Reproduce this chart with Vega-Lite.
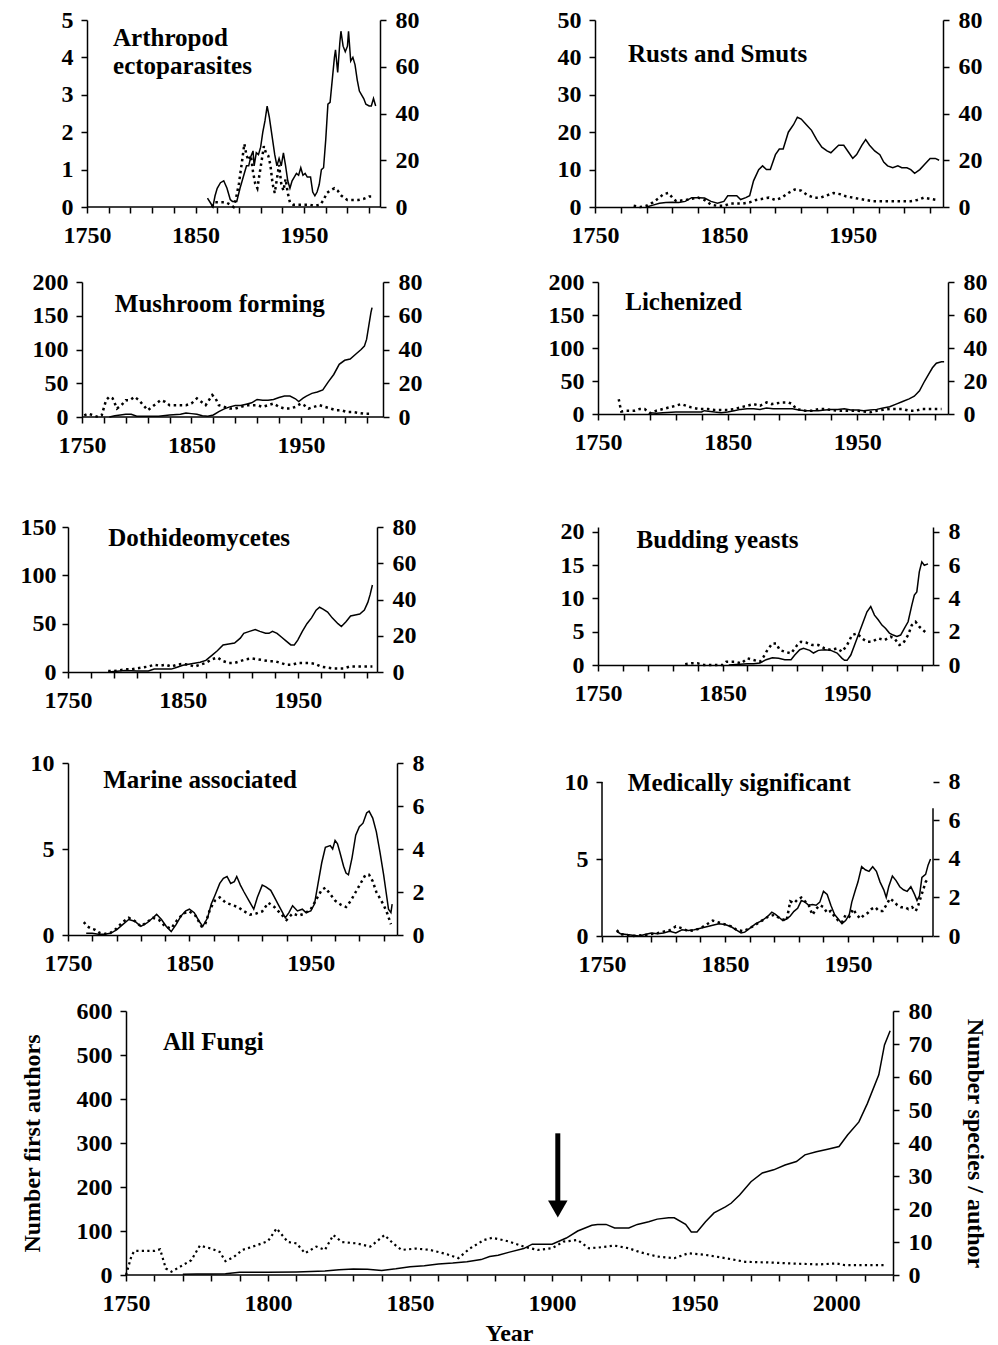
{
  "$schema": "https://vega.github.io/schema/vega-lite/v6.json",
  "padding": {"left": 20, "top": 8, "right": 0, "bottom": 0},
  "background": "white",
  "datasets": {
    "p1a": [{"x":1861,"v":0.24},{"x":1864,"v":0.1},{"x":1866,"v":0},{"x":1868,"v":0.3},{"x":1870,"v":0.5},{"x":1873,"v":0.65},{"x":1876,"v":0.7},{"x":1879,"v":0.5},{"x":1882,"v":0.2},{"x":1884,"v":0.15},{"x":1888,"v":0.15},{"x":1891,"v":0.5},{"x":1894,"v":0.8},{"x":1897,"v":1.1},{"x":1899,"v":1.1},{"x":1901,"v":1.35},{"x":1903,"v":1.5},{"x":1904,"v":1.1},{"x":1906,"v":1.45},{"x":1908,"v":1.4},{"x":1910,"v":1.6},{"x":1912,"v":2.0},{"x":1914,"v":2.3},{"x":1916,"v":2.7},{"x":1918,"v":2.4},{"x":1919,"v":2.2},{"x":1921,"v":1.8},{"x":1923,"v":1.4},{"x":1925,"v":1.1},{"x":1927,"v":1.3},{"x":1929,"v":1.1},{"x":1931,"v":1.45},{"x":1933,"v":1.1},{"x":1935,"v":0.7},{"x":1937,"v":0.5},{"x":1939,"v":0.7},{"x":1941,"v":0.8},{"x":1943,"v":0.9},{"x":1945,"v":0.85},{"x":1947,"v":1.05},{"x":1949,"v":0.85},{"x":1951,"v":0.9},{"x":1953,"v":0.8},{"x":1956,"v":0.8},{"x":1958,"v":0.4},{"x":1960,"v":0.3},{"x":1962,"v":0.4},{"x":1964,"v":0.6},{"x":1966,"v":1.0},{"x":1968,"v":1.05},{"x":1970,"v":1.8},{"x":1972,"v":2.75},{"x":1974,"v":2.8},{"x":1976,"v":3.4},{"x":1978,"v":4.0},{"x":1979,"v":4.2},{"x":1981,"v":3.6},{"x":1983,"v":4.4},{"x":1984,"v":4.7},{"x":1986,"v":4.3},{"x":1988,"v":4.15},{"x":1990,"v":4.3},{"x":1991,"v":4.7},{"x":1993,"v":3.9},{"x":1995,"v":4.0},{"x":1997,"v":3.8},{"x":1999,"v":3.4},{"x":2001,"v":3.1},{"x":2003,"v":3.0},{"x":2005,"v":2.9},{"x":2007,"v":2.75},{"x":2010,"v":2.7},{"x":2012,"v":2.7},{"x":2014,"v":2.9},{"x":2016,"v":2.7}],
    "p1b": [{"x":1865,"v":0},{"x":1868,"v":2},{"x":1872,"v":2},{"x":1878,"v":2},{"x":1882,"v":1},{"x":1885,"v":0},{"x":1887,"v":3},{"x":1890,"v":10},{"x":1893,"v":20},{"x":1895,"v":27},{"x":1897,"v":22},{"x":1899,"v":20},{"x":1901,"v":22},{"x":1903,"v":15},{"x":1905,"v":10},{"x":1907,"v":8},{"x":1909,"v":14},{"x":1911,"v":20},{"x":1913,"v":26},{"x":1915,"v":23},{"x":1917,"v":22},{"x":1919,"v":18},{"x":1921,"v":10},{"x":1923,"v":6},{"x":1925,"v":12},{"x":1927,"v":18},{"x":1929,"v":10},{"x":1931,"v":7},{"x":1933,"v":12},{"x":1935,"v":6},{"x":1937,"v":2},{"x":1940,"v":1},{"x":1945,"v":1},{"x":1950,"v":1},{"x":1955,"v":1},{"x":1960,"v":0.5},{"x":1965,"v":1},{"x":1968,"v":3},{"x":1971,"v":6},{"x":1974,"v":7},{"x":1978,"v":8},{"x":1981,"v":7},{"x":1984,"v":5},{"x":1987,"v":4},{"x":1990,"v":3},{"x":1995,"v":3},{"x":2000,"v":3},{"x":2005,"v":3.5},{"x":2010,"v":4.5},{"x":2015,"v":4.5}],
    "p2a": [{"x":1790,"v":0},{"x":1795,"v":0.5},{"x":1800,"v":1},{"x":1805,"v":1.2},{"x":1810,"v":1.3},{"x":1815,"v":1.2},{"x":1820,"v":1.5},{"x":1825,"v":2.5},{"x":1830,"v":2.5},{"x":1835,"v":2.4},{"x":1840,"v":1.5},{"x":1845,"v":1},{"x":1850,"v":1.5},{"x":1853,"v":3},{"x":1860,"v":3},{"x":1863,"v":2},{"x":1867,"v":2.5},{"x":1870,"v":3},{"x":1873,"v":7},{"x":1877,"v":10},{"x":1880,"v":11},{"x":1883,"v":10},{"x":1886,"v":10},{"x":1890,"v":14},{"x":1893,"v":15.5},{"x":1896,"v":15.5},{"x":1900,"v":20},{"x":1904,"v":22},{"x":1907,"v":24},{"x":1910,"v":23.5},{"x":1914,"v":22},{"x":1918,"v":20.5},{"x":1922,"v":18},{"x":1926,"v":16},{"x":1930,"v":15},{"x":1933,"v":14.5},{"x":1936,"v":15.5},{"x":1939,"v":16.5},{"x":1943,"v":16.5},{"x":1947,"v":14.5},{"x":1950,"v":13},{"x":1953,"v":14},{"x":1957,"v":16.5},{"x":1960,"v":18},{"x":1963,"v":16.5},{"x":1967,"v":15},{"x":1971,"v":14},{"x":1974,"v":12},{"x":1977,"v":11},{"x":1981,"v":10.5},{"x":1985,"v":11},{"x":1988,"v":10.5},{"x":1992,"v":10.5},{"x":1995,"v":10},{"x":1998,"v":9},{"x":2002,"v":10},{"x":2006,"v":11.5},{"x":2010,"v":13},{"x":2014,"v":13},{"x":2017,"v":12.5}],
    "p2b": [{"x":1780,"v":0.5},{"x":1785,"v":0},{"x":1790,"v":0.5},{"x":1795,"v":2},{"x":1800,"v":4},{"x":1803,"v":5.5},{"x":1807,"v":6},{"x":1810,"v":4},{"x":1813,"v":2.5},{"x":1820,"v":3},{"x":1825,"v":3.5},{"x":1830,"v":4},{"x":1835,"v":3},{"x":1840,"v":1},{"x":1845,"v":0.5},{"x":1850,"v":0.5},{"x":1855,"v":1.5},{"x":1860,"v":1.5},{"x":1865,"v":1.5},{"x":1870,"v":2},{"x":1875,"v":3},{"x":1880,"v":3.5},{"x":1885,"v":4},{"x":1890,"v":3},{"x":1895,"v":4},{"x":1900,"v":6},{"x":1905,"v":7.5},{"x":1910,"v":7},{"x":1915,"v":5},{"x":1920,"v":4},{"x":1925,"v":4},{"x":1930,"v":5},{"x":1935,"v":6},{"x":1940,"v":5.5},{"x":1945,"v":4.5},{"x":1950,"v":4},{"x":1955,"v":3.5},{"x":1960,"v":3},{"x":1965,"v":2.5},{"x":1970,"v":2.5},{"x":1980,"v":2.5},{"x":1990,"v":2.5},{"x":1995,"v":2.5},{"x":2000,"v":3},{"x":2005,"v":4},{"x":2010,"v":3.5},{"x":2015,"v":3}],
    "p3a": [{"x":1775,"v":0},{"x":1780,"v":2},{"x":1790,"v":4},{"x":1795,"v":4},{"x":1800,"v":1},{"x":1810,"v":1},{"x":1820,"v":1},{"x":1830,"v":3},{"x":1840,"v":4},{"x":1845,"v":6},{"x":1850,"v":5},{"x":1855,"v":4},{"x":1860,"v":2},{"x":1865,"v":1},{"x":1870,"v":3},{"x":1875,"v":8},{"x":1880,"v":12},{"x":1885,"v":15},{"x":1890,"v":17},{"x":1895,"v":17},{"x":1900,"v":19},{"x":1905,"v":21},{"x":1910,"v":26},{"x":1915,"v":25},{"x":1920,"v":25},{"x":1925,"v":26},{"x":1930,"v":29},{"x":1935,"v":31},{"x":1940,"v":31},{"x":1945,"v":27},{"x":1948,"v":23},{"x":1952,"v":28},{"x":1955,"v":31},{"x":1960,"v":35},{"x":1965,"v":37},{"x":1970,"v":40},{"x":1975,"v":52},{"x":1980,"v":63},{"x":1985,"v":78},{"x":1990,"v":84},{"x":1995,"v":86},{"x":2000,"v":93},{"x":2005,"v":100},{"x":2008,"v":105},{"x":2010,"v":115},{"x":2012,"v":135},{"x":2014,"v":155},{"x":2015,"v":162}],
    "p3b": [{"x":1752,"v":1},{"x":1756,"v":2},{"x":1760,"v":1},{"x":1765,"v":0},{"x":1768,"v":1},{"x":1772,"v":10},{"x":1775,"v":12},{"x":1778,"v":11},{"x":1782,"v":5},{"x":1786,"v":7},{"x":1790,"v":10},{"x":1794,"v":10},{"x":1798,"v":12},{"x":1802,"v":10},{"x":1806,"v":7},{"x":1810,"v":4},{"x":1814,"v":6},{"x":1818,"v":8},{"x":1822,"v":10},{"x":1826,"v":9},{"x":1830,"v":7},{"x":1835,"v":7},{"x":1840,"v":7},{"x":1845,"v":7},{"x":1850,"v":8},{"x":1855,"v":11},{"x":1859,"v":9},{"x":1863,"v":7},{"x":1866,"v":10},{"x":1869,"v":13},{"x":1872,"v":11},{"x":1875,"v":7},{"x":1880,"v":6},{"x":1885,"v":5},{"x":1890,"v":5},{"x":1895,"v":6},{"x":1900,"v":7},{"x":1905,"v":7},{"x":1910,"v":7},{"x":1915,"v":6},{"x":1920,"v":7},{"x":1925,"v":8},{"x":1930,"v":6},{"x":1935,"v":5},{"x":1940,"v":5},{"x":1945,"v":6},{"x":1950,"v":8},{"x":1953,"v":7},{"x":1957,"v":5},{"x":1962,"v":6},{"x":1967,"v":7},{"x":1972,"v":6},{"x":1977,"v":5},{"x":1982,"v":4},{"x":1987,"v":4},{"x":1992,"v":3},{"x":1997,"v":3},{"x":2002,"v":2.5},{"x":2007,"v":2},{"x":2012,"v":2},{"x":2015,"v":2}],
    "p4a": [{"x":1790,"v":2},{"x":1795,"v":1},{"x":1800,"v":2},{"x":1810,"v":3},{"x":1820,"v":3},{"x":1830,"v":3},{"x":1832,"v":5},{"x":1840,"v":3},{"x":1845,"v":2},{"x":1850,"v":3},{"x":1855,"v":5},{"x":1860,"v":7},{"x":1865,"v":8},{"x":1870,"v":8},{"x":1875,"v":7},{"x":1880,"v":9},{"x":1885,"v":8},{"x":1890,"v":8},{"x":1895,"v":8},{"x":1900,"v":8},{"x":1905,"v":6},{"x":1910,"v":5},{"x":1915,"v":5},{"x":1920,"v":5},{"x":1925,"v":6},{"x":1930,"v":7},{"x":1935,"v":7},{"x":1940,"v":8},{"x":1945,"v":6},{"x":1950,"v":6},{"x":1955,"v":5},{"x":1960,"v":6},{"x":1965,"v":7},{"x":1970,"v":9},{"x":1975,"v":11},{"x":1980,"v":15},{"x":1985,"v":19},{"x":1990,"v":23},{"x":1994,"v":27},{"x":1998,"v":35},{"x":2002,"v":50},{"x":2005,"v":60},{"x":2008,"v":70},{"x":2011,"v":77},{"x":2015,"v":79},{"x":2017,"v":79}],
    "p4b": [{"x":1766,"v":9},{"x":1767,"v":5},{"x":1768,"v":1.5},{"x":1772,"v":2},{"x":1778,"v":2},{"x":1782,"v":3},{"x":1786,"v":3},{"x":1790,"v":0.5},{"x":1795,"v":2},{"x":1800,"v":3},{"x":1805,"v":4},{"x":1810,"v":5},{"x":1814,"v":6},{"x":1818,"v":5},{"x":1822,"v":4},{"x":1828,"v":3},{"x":1835,"v":3},{"x":1840,"v":2.5},{"x":1845,"v":2.5},{"x":1850,"v":2.5},{"x":1855,"v":3},{"x":1860,"v":4},{"x":1865,"v":5},{"x":1870,"v":6},{"x":1875,"v":5},{"x":1880,"v":7},{"x":1884,"v":6},{"x":1888,"v":6.5},{"x":1892,"v":7},{"x":1897,"v":7},{"x":1900,"v":6},{"x":1903,"v":3},{"x":1910,"v":2},{"x":1915,"v":2},{"x":1920,"v":3},{"x":1925,"v":3},{"x":1930,"v":2.5},{"x":1935,"v":2},{"x":1940,"v":2},{"x":1945,"v":2},{"x":1950,"v":2},{"x":1955,"v":1.5},{"x":1960,"v":1},{"x":1965,"v":2},{"x":1970,"v":2.5},{"x":1975,"v":3},{"x":1980,"v":3},{"x":1985,"v":3},{"x":1990,"v":2},{"x":1995,"v":2},{"x":2000,"v":3},{"x":2005,"v":3},{"x":2010,"v":3},{"x":2015,"v":3}],
    "p5a": [{"x":1785,"v":0},{"x":1795,"v":1},{"x":1800,"v":1.5},{"x":1810,"v":1},{"x":1820,"v":1},{"x":1825,"v":3},{"x":1830,"v":3},{"x":1840,"v":3},{"x":1845,"v":5},{"x":1850,"v":7},{"x":1855,"v":8},{"x":1860,"v":9},{"x":1865,"v":10},{"x":1870,"v":12},{"x":1875,"v":17},{"x":1880,"v":22},{"x":1885,"v":28},{"x":1890,"v":29},{"x":1895,"v":30},{"x":1900,"v":35},{"x":1903,"v":40},{"x":1908,"v":42},{"x":1913,"v":44},{"x":1917,"v":42},{"x":1922,"v":40},{"x":1925,"v":40},{"x":1928,"v":42},{"x":1932,"v":40},{"x":1936,"v":36},{"x":1940,"v":32},{"x":1944,"v":28},{"x":1947,"v":28},{"x":1950,"v":33},{"x":1954,"v":42},{"x":1958,"v":50},{"x":1962,"v":56},{"x":1966,"v":64},{"x":1969,"v":67},{"x":1972,"v":65},{"x":1976,"v":62},{"x":1980,"v":56},{"x":1985,"v":50},{"x":1988,"v":47},{"x":1992,"v":52},{"x":1996,"v":58},{"x":2000,"v":59},{"x":2004,"v":60},{"x":2008,"v":64},{"x":2011,"v":72},{"x":2013,"v":80},{"x":2015,"v":90}],
    "p5b": [{"x":1785,"v":0.5},{"x":1790,"v":0.5},{"x":1795,"v":1},{"x":1800,"v":1.5},{"x":1805,"v":1.5},{"x":1810,"v":2},{"x":1815,"v":2.5},{"x":1820,"v":3},{"x":1825,"v":4},{"x":1830,"v":3.5},{"x":1835,"v":4},{"x":1840,"v":3},{"x":1845,"v":4},{"x":1850,"v":4.5},{"x":1855,"v":4},{"x":1860,"v":3},{"x":1865,"v":4},{"x":1870,"v":5},{"x":1875,"v":7},{"x":1880,"v":8},{"x":1885,"v":6},{"x":1890,"v":5},{"x":1895,"v":5},{"x":1900,"v":6},{"x":1905,"v":7},{"x":1910,"v":7.5},{"x":1915,"v":7},{"x":1920,"v":6.5},{"x":1925,"v":6},{"x":1930,"v":6},{"x":1935,"v":5},{"x":1940,"v":4},{"x":1945,"v":4},{"x":1950,"v":5},{"x":1955,"v":5},{"x":1960,"v":5},{"x":1965,"v":4.5},{"x":1970,"v":3},{"x":1975,"v":2.5},{"x":1980,"v":2},{"x":1985,"v":2},{"x":1990,"v":2},{"x":1995,"v":3},{"x":2000,"v":3},{"x":2005,"v":3},{"x":2010,"v":3},{"x":2015,"v":3}],
    "p6a": [{"x":1855,"v":0},{"x":1870,"v":0.2},{"x":1875,"v":0.2},{"x":1880,"v":0.3},{"x":1885,"v":0.8},{"x":1890,"v":1.1},{"x":1895,"v":1},{"x":1900,"v":0.8},{"x":1905,"v":0.8},{"x":1908,"v":1.5},{"x":1912,"v":2.3},{"x":1915,"v":2.5},{"x":1920,"v":2.2},{"x":1923,"v":1.8},{"x":1927,"v":2.2},{"x":1932,"v":2.3},{"x":1937,"v":2.2},{"x":1942,"v":1.8},{"x":1946,"v":1},{"x":1948,"v":0.7},{"x":1950,"v":0.7},{"x":1953,"v":1.5},{"x":1957,"v":3.5},{"x":1960,"v":5},{"x":1963,"v":6.5},{"x":1966,"v":8},{"x":1969,"v":8.8},{"x":1972,"v":7.5},{"x":1975,"v":6.8},{"x":1978,"v":6},{"x":1981,"v":5.5},{"x":1984,"v":4.8},{"x":1987,"v":4.5},{"x":1990,"v":4.3},{"x":1993,"v":4.5},{"x":1996,"v":5.5},{"x":1999,"v":6.5},{"x":2002,"v":9},{"x":2004,"v":10.5},{"x":2006,"v":11},{"x":2008,"v":14},{"x":2010,"v":15.5},{"x":2012,"v":15},{"x":2015,"v":15.2}],
    "p6b": [{"x":1820,"v":0.05},{"x":1825,"v":0.1},{"x":1830,"v":0.1},{"x":1835,"v":0},{"x":1850,"v":0},{"x":1853,"v":0.2},{"x":1860,"v":0.2},{"x":1865,"v":0.1},{"x":1870,"v":0.4},{"x":1875,"v":0.3},{"x":1880,"v":0.2},{"x":1883,"v":0.5},{"x":1886,"v":0.9},{"x":1890,"v":1.3},{"x":1893,"v":1.3},{"x":1896,"v":0.9},{"x":1900,"v":0.8},{"x":1905,"v":0.7},{"x":1910,"v":1.2},{"x":1913,"v":1.4},{"x":1917,"v":1.35},{"x":1922,"v":1.2},{"x":1927,"v":1.2},{"x":1932,"v":1.0},{"x":1937,"v":0.9},{"x":1942,"v":1.0},{"x":1946,"v":0.8},{"x":1950,"v":1.2},{"x":1954,"v":1.8},{"x":1958,"v":1.9},{"x":1962,"v":1.6},{"x":1966,"v":1.4},{"x":1970,"v":1.4},{"x":1975,"v":1.6},{"x":1980,"v":1.5},{"x":1985,"v":1.7},{"x":1988,"v":1.6},{"x":1992,"v":1.2},{"x":1995,"v":1.3},{"x":1999,"v":1.8},{"x":2002,"v":2.4},{"x":2005,"v":2.6},{"x":2008,"v":2.3},{"x":2011,"v":2.1},{"x":2014,"v":1.9}],
    "p7a": [{"x":1765,"v":0.1},{"x":1770,"v":0.1},{"x":1775,"v":0.05},{"x":1780,"v":0.05},{"x":1785,"v":0.1},{"x":1790,"v":0.3},{"x":1795,"v":0.6},{"x":1800,"v":0.9},{"x":1805,"v":0.8},{"x":1810,"v":0.5},{"x":1815,"v":0.7},{"x":1820,"v":1.0},{"x":1823,"v":1.2},{"x":1827,"v":0.9},{"x":1831,"v":0.5},{"x":1835,"v":0.2},{"x":1839,"v":0.6},{"x":1843,"v":1.1},{"x":1847,"v":1.4},{"x":1850,"v":1.5},{"x":1854,"v":1.3},{"x":1858,"v":0.8},{"x":1861,"v":0.5},{"x":1865,"v":1.0},{"x":1868,"v":1.8},{"x":1871,"v":2.3},{"x":1875,"v":3.0},{"x":1878,"v":3.3},{"x":1881,"v":3.4},{"x":1884,"v":3.0},{"x":1887,"v":3.1},{"x":1889,"v":3.4},{"x":1892,"v":2.9},{"x":1895,"v":2.5},{"x":1899,"v":2.0},{"x":1903,"v":1.5},{"x":1906,"v":2.2},{"x":1910,"v":2.9},{"x":1913,"v":2.8},{"x":1917,"v":2.6},{"x":1920,"v":2.2},{"x":1923,"v":1.8},{"x":1926,"v":1.4},{"x":1929,"v":1.0},{"x":1932,"v":1.3},{"x":1935,"v":1.7},{"x":1939,"v":1.4},{"x":1943,"v":1.5},{"x":1946,"v":1.3},{"x":1950,"v":1.4},{"x":1953,"v":1.8},{"x":1956,"v":3.0},{"x":1959,"v":4.2},{"x":1962,"v":5.1},{"x":1966,"v":5.2},{"x":1968,"v":5.0},{"x":1970,"v":5.5},{"x":1972,"v":5.3},{"x":1974,"v":4.8},{"x":1977,"v":4.0},{"x":1979,"v":3.6},{"x":1981,"v":3.5},{"x":1984,"v":4.5},{"x":1987,"v":5.8},{"x":1990,"v":6.3},{"x":1993,"v":6.5},{"x":1996,"v":7.1},{"x":1998,"v":7.2},{"x":2001,"v":6.8},{"x":2004,"v":6.0},{"x":2007,"v":4.8},{"x":2010,"v":3.5},{"x":2012,"v":2.5},{"x":2014,"v":1.5},{"x":2016,"v":1.3},{"x":2017,"v":1.8}],
    "p7b": [{"x":1763,"v":0.6},{"x":1766,"v":0.4},{"x":1769,"v":0.3},{"x":1772,"v":0.25},{"x":1776,"v":0.1},{"x":1780,"v":0.05},{"x":1785,"v":0.1},{"x":1790,"v":0.3},{"x":1795,"v":0.6},{"x":1800,"v":0.8},{"x":1805,"v":0.65},{"x":1810,"v":0.4},{"x":1815,"v":0.6},{"x":1820,"v":0.8},{"x":1825,"v":0.7},{"x":1830,"v":0.4},{"x":1835,"v":0.3},{"x":1840,"v":0.7},{"x":1845,"v":1.0},{"x":1850,"v":1.1},{"x":1855,"v":0.9},{"x":1860,"v":0.4},{"x":1863,"v":0.5},{"x":1867,"v":1.2},{"x":1871,"v":1.6},{"x":1875,"v":1.75},{"x":1880,"v":1.5},{"x":1885,"v":1.4},{"x":1890,"v":1.3},{"x":1895,"v":1.1},{"x":1900,"v":0.95},{"x":1905,"v":1.0},{"x":1910,"v":1.1},{"x":1915,"v":1.5},{"x":1920,"v":1.3},{"x":1925,"v":1.0},{"x":1930,"v":0.7},{"x":1935,"v":1.0},{"x":1940,"v":0.9},{"x":1945,"v":1.0},{"x":1950,"v":1.2},{"x":1955,"v":1.7},{"x":1959,"v":2.1},{"x":1962,"v":2.2},{"x":1966,"v":1.9},{"x":1970,"v":1.6},{"x":1975,"v":1.4},{"x":1979,"v":1.3},{"x":1983,"v":1.6},{"x":1987,"v":2.0},{"x":1991,"v":2.4},{"x":1995,"v":2.8},{"x":1998,"v":2.8},{"x":2001,"v":2.5},{"x":2004,"v":2.0},{"x":2007,"v":1.7},{"x":2010,"v":1.4},{"x":2013,"v":1.0},{"x":2016,"v":0.5}],
    "p8a": [{"x":1762,"v":0.3},{"x":1765,"v":0.15},{"x":1770,"v":0.1},{"x":1775,"v":0.05},{"x":1780,"v":0.0},{"x":1785,"v":0.1},{"x":1790,"v":0.2},{"x":1795,"v":0.15},{"x":1800,"v":0.2},{"x":1805,"v":0.3},{"x":1810,"v":0.2},{"x":1815,"v":0.4},{"x":1820,"v":0.35},{"x":1825,"v":0.4},{"x":1830,"v":0.5},{"x":1835,"v":0.6},{"x":1840,"v":0.7},{"x":1845,"v":0.8},{"x":1850,"v":0.75},{"x":1855,"v":0.6},{"x":1860,"v":0.35},{"x":1863,"v":0.2},{"x":1866,"v":0.25},{"x":1870,"v":0.5},{"x":1875,"v":0.8},{"x":1880,"v":1.0},{"x":1885,"v":1.3},{"x":1888,"v":1.55},{"x":1891,"v":1.4},{"x":1894,"v":1.2},{"x":1897,"v":1.0},{"x":1900,"v":1.1},{"x":1903,"v":1.3},{"x":1906,"v":1.6},{"x":1909,"v":1.8},{"x":1912,"v":2.3},{"x":1915,"v":2.2},{"x":1918,"v":2.0},{"x":1921,"v":2.05},{"x":1924,"v":2.0},{"x":1927,"v":2.2},{"x":1930,"v":2.9},{"x":1933,"v":2.7},{"x":1936,"v":2.0},{"x":1939,"v":1.4},{"x":1942,"v":1.1},{"x":1945,"v":0.8},{"x":1948,"v":1.0},{"x":1951,"v":1.4},{"x":1953,"v":2.2},{"x":1956,"v":3.0},{"x":1958,"v":3.5},{"x":1961,"v":4.5},{"x":1964,"v":4.3},{"x":1967,"v":4.2},{"x":1970,"v":4.5},{"x":1973,"v":4.2},{"x":1976,"v":3.5},{"x":1979,"v":3.0},{"x":1981,"v":2.5},{"x":1983,"v":3.2},{"x":1986,"v":3.9},{"x":1989,"v":3.6},{"x":1992,"v":3.2},{"x":1995,"v":3.0},{"x":1998,"v":2.9},{"x":2001,"v":3.2},{"x":2004,"v":2.7},{"x":2006,"v":2.3},{"x":2008,"v":2.6},{"x":2010,"v":3.8},{"x":2013,"v":4.0},{"x":2015,"v":4.6},{"x":2017,"v":5.0}],
    "p8b": [{"x":1762,"v":0.3},{"x":1765,"v":0.1},{"x":1775,"v":0.0},{"x":1785,"v":0.05},{"x":1795,"v":0.15},{"x":1805,"v":0.3},{"x":1810,"v":0.5},{"x":1815,"v":0.4},{"x":1820,"v":0.25},{"x":1825,"v":0.3},{"x":1830,"v":0.4},{"x":1835,"v":0.6},{"x":1840,"v":0.8},{"x":1845,"v":0.7},{"x":1850,"v":0.6},{"x":1855,"v":0.5},{"x":1860,"v":0.3},{"x":1865,"v":0.25},{"x":1870,"v":0.4},{"x":1875,"v":0.6},{"x":1880,"v":0.8},{"x":1885,"v":1.0},{"x":1890,"v":1.1},{"x":1895,"v":0.9},{"x":1900,"v":0.8},{"x":1903,"v":1.8},{"x":1906,"v":1.7},{"x":1909,"v":1.9},{"x":1912,"v":2.0},{"x":1915,"v":1.8},{"x":1918,"v":1.6},{"x":1921,"v":1.1},{"x":1924,"v":1.4},{"x":1927,"v":1.6},{"x":1930,"v":1.5},{"x":1933,"v":1.2},{"x":1936,"v":1.3},{"x":1939,"v":1.0},{"x":1942,"v":0.8},{"x":1945,"v":0.7},{"x":1948,"v":1.1},{"x":1951,"v":1.0},{"x":1954,"v":1.4},{"x":1957,"v":1.1},{"x":1960,"v":0.9},{"x":1963,"v":1.1},{"x":1966,"v":1.2},{"x":1969,"v":1.4},{"x":1972,"v":1.5},{"x":1975,"v":1.3},{"x":1978,"v":1.3},{"x":1981,"v":1.6},{"x":1984,"v":1.95},{"x":1987,"v":1.8},{"x":1990,"v":1.6},{"x":1993,"v":1.5},{"x":1996,"v":1.5},{"x":1999,"v":1.4},{"x":2002,"v":1.5},{"x":2005,"v":1.3},{"x":2007,"v":1.6},{"x":2009,"v":2.0},{"x":2011,"v":2.4},{"x":2013,"v":2.8},{"x":2015,"v":3.0}],
    "fa": [{"x":1770,"v":1.5},{"x":1775,"v":2},{"x":1780,"v":2},{"x":1785,"v":3},{"x":1790,"v":6},{"x":1800,"v":6},{"x":1810,"v":7},{"x":1820,"v":9},{"x":1825,"v":12},{"x":1830,"v":13.6},{"x":1835,"v":13},{"x":1840,"v":10},{"x":1845,"v":14},{"x":1850,"v":19},{"x":1855,"v":21},{"x":1860,"v":25},{"x":1865,"v":27},{"x":1870,"v":30},{"x":1875,"v":35},{"x":1878,"v":42},{"x":1881,"v":45},{"x":1885,"v":52},{"x":1890,"v":60},{"x":1893,"v":70},{"x":1900,"v":70},{"x":1905,"v":84},{"x":1909,"v":100},{"x":1914,"v":113},{"x":1916,"v":115},{"x":1919,"v":115},{"x":1922,"v":107},{"x":1927,"v":107},{"x":1930,"v":115},{"x":1934,"v":121},{"x":1937,"v":127},{"x":1941,"v":130},{"x":1943,"v":130},{"x":1947,"v":115},{"x":1949,"v":98},{"x":1951,"v":98},{"x":1954,"v":121},{"x":1957,"v":141},{"x":1961,"v":155},{"x":1963,"v":163},{"x":1966,"v":182},{"x":1970,"v":212},{"x":1974,"v":232},{"x":1978,"v":239},{"x":1982,"v":250},{"x":1986,"v":258},{"x":1989,"v":273},{"x":1993,"v":280},{"x":1997,"v":286},{"x":2001,"v":292},{"x":2004,"v":318},{"x":2008,"v":348},{"x":2011,"v":390},{"x":2015,"v":455},{"x":2017,"v":523},{"x":2019,"v":555}],
    "fb": [{"x":1750,"v":0},{"x":1752,"v":6},{"x":1753,"v":7.3},{"x":1760,"v":7.3},{"x":1762,"v":7.8},{"x":1764,"v":2},{"x":1766,"v":1},{"x":1769,"v":2.5},{"x":1773,"v":4.5},{"x":1776,"v":8.9},{"x":1780,"v":8},{"x":1783,"v":7},{"x":1785,"v":4.2},{"x":1788,"v":5.5},{"x":1791,"v":7.6},{"x":1796,"v":9},{"x":1800,"v":10.3},{"x":1803,"v":14.1},{"x":1807,"v":10},{"x":1810,"v":9.6},{"x":1813,"v":6.6},{"x":1817,"v":8.6},{"x":1820,"v":7.6},{"x":1823,"v":12.1},{"x":1826,"v":10},{"x":1831,"v":9.6},{"x":1836,"v":8.6},{"x":1841,"v":12.1},{"x":1844,"v":9.6},{"x":1847,"v":7.6},{"x":1852,"v":8},{"x":1857,"v":7.6},{"x":1863,"v":6.3},{"x":1867,"v":5.1},{"x":1871,"v":8},{"x":1876,"v":10.6},{"x":1879,"v":11.3},{"x":1881,"v":10.9},{"x":1885,"v":10.1},{"x":1890,"v":8.6},{"x":1895,"v":7.6},{"x":1900,"v":8.1},{"x":1904,"v":10.1},{"x":1909,"v":10.6},{"x":1913,"v":8.1},{"x":1916,"v":8.3},{"x":1922,"v":8.9},{"x":1927,"v":8.1},{"x":1931,"v":6.9},{"x":1937,"v":5.6},{"x":1943,"v":5.1},{"x":1948,"v":6.6},{"x":1954,"v":6.1},{"x":1961,"v":5.1},{"x":1968,"v":4.0},{"x":1976,"v":3.8},{"x":1984,"v":3.5},{"x":1994,"v":3.2},{"x":2000,"v":3.5},{"x":2003,"v":3.0},{"x":2011,"v":3.0},{"x":2017,"v":3.0}]
  },
  "vconcat": [
    {
      "spacing": 138,
      "hconcat": [
        {
          "width": 312, "height": 187,
          "layer": [
            {"layer": [
              {"data": {"name": "p1a"}, "mark": {"type": "line", "color": "black", "strokeWidth": 1.5},
               "encoding": {
                 "x": {"field": "x", "type": "quantitative", "scale": {"domain": [1732.49, 2020], "nice": false, "zero": false},
                       "axis": {"values": [1750,1770,1790,1810,1830,1850,1870,1890,1910,1930,1950,1970,1990,2010], "tickCount": 100, "domain": false, "format": "d", "labelExpr": "(datum.value - 1750) % 100 == 0 ? datum.label : ''", "title": null, "labelOverlap": false}},
                 "y": {"field": "v", "type": "quantitative", "scale": {"domain": [0, 5], "nice": false, "zero": false},
                       "axis": {"orient": "left", "values": [0,1,2,3,4,5], "tickCount": 100, "format": "d", "offset": -19, "labelOverlap": false, "title": null}}}},
              {"data": {"values": [{}]}, "mark": {"type": "rule", "color": "black", "strokeWidth": 1.5},
               "encoding": {"x": {"datum": 1750, "title": null}, "x2": {"datum": 2020}, "y": {"datum": 0, "title": null}}},
              {"data": {"values": [{}]}, "mark": {"type": "text", "text": "Arthropod"},
               "encoding": {"x": {"datum": 1774, "title": null}, "y": {"datum": 4.52, "title": null}}},
              {"data": {"values": [{}]}, "mark": {"type": "text", "text": "ectoparasites"},
               "encoding": {"x": {"datum": 1774, "title": null}, "y": {"datum": 3.77, "title": null}}}
            ]},
            {"data": {"name": "p1b"}, "mark": {"type": "line", "color": "black", "strokeWidth": 2.5, "strokeDash": [2.5, 3.5]},
             "encoding": {
               "x": {"field": "x", "type": "quantitative", "title": null},
               "y": {"field": "v", "type": "quantitative", "scale": {"domain": [0, 80], "nice": false, "zero": false}, "axis": {"orient": "right", "values": [0,20,40,60,80], "tickCount": 100, "format": "d", "labelOverlap": false, "title": null}}}}
          ],
          "resolve": {"scale": {"y": "independent"}}
        },
        {
          "width": 348, "height": 187,
          "layer": [
            {"layer": [
              {"data": {"name": "p2a"}, "mark": {"type": "line", "color": "black", "strokeWidth": 1.5},
               "encoding": {
                 "x": {"field": "x", "type": "quantitative", "scale": {"domain": [1750, 2020], "nice": false, "zero": false},
                       "axis": {"values": [1750,1770,1790,1810,1830,1850,1870,1890,1910,1930,1950,1970,1990,2010], "tickCount": 100, "format": "d", "labelExpr": "(datum.value - 1750) % 100 == 0 ? datum.label : ''", "title": null, "labelOverlap": false}},
                 "y": {"field": "v", "type": "quantitative", "scale": {"domain": [0, 50], "nice": false, "zero": false},
                       "axis": {"orient": "left", "values": [0,10,20,30,40,50], "tickCount": 100, "format": "d", "labelOverlap": false, "title": null}}}},
              {"data": {"values": [{}]}, "mark": {"type": "text", "text": "Rusts and Smuts"},
               "encoding": {"x": {"datum": 1775.6, "title": null}, "y": {"datum": 40.9, "title": null}}}
            ]},
            {"data": {"name": "p2b"}, "mark": {"type": "line", "color": "black", "strokeWidth": 2.5, "strokeDash": [2.5, 3.5]},
             "encoding": {
               "x": {"field": "x", "type": "quantitative", "title": null},
               "y": {"field": "v", "type": "quantitative", "scale": {"domain": [0, 80], "nice": false, "zero": false}, "axis": {"orient": "right", "values": [0,20,40,60,80], "tickCount": 100, "format": "d", "labelOverlap": false, "title": null}}}}
          ],
          "resolve": {"scale": {"y": "independent"}}
        }
      ]
    },
    {
      "spacing": 58,
      "vconcat": [
        {
          "spacing": 126,
          "hconcat": [
            {
              "width": 315, "height": 135,
              "layer": [
                {"layer": [
                  {"data": {"name": "p3a"}, "mark": {"type": "line", "color": "black", "strokeWidth": 1.5},
                   "encoding": {
                     "x": {"field": "x", "type": "quantitative", "scale": {"domain": [1737.21, 2025], "nice": false, "zero": false},
                           "axis": {"values": [1750,1770,1790,1810,1830,1850,1870,1890,1910,1930,1950,1970,1990,2010], "tickCount": 100, "domain": false, "format": "d", "labelExpr": "(datum.value - 1750) % 100 == 0 ? datum.label : ''", "title": null, "labelOverlap": false}},
                     "y": {"field": "v", "type": "quantitative", "scale": {"domain": [0, 200], "nice": false, "zero": false},
                           "axis": {"orient": "left", "values": [0,50,100,150,200], "tickCount": 100, "format": "d", "offset": -14, "labelOverlap": false, "title": null}}}},
                  {"data": {"values": [{}]}, "mark": {"type": "rule", "color": "black", "strokeWidth": 1.5},
                   "encoding": {"x": {"datum": 1750, "title": null}, "x2": {"datum": 2025}, "y": {"datum": 0, "title": null}}},
                  {"data": {"values": [{}]}, "mark": {"type": "text", "text": "Mushroom forming"},
                   "encoding": {"x": {"datum": 1780, "title": null}, "y": {"datum": 167, "title": null}}}
                ]},
                {"data": {"name": "p3b"}, "mark": {"type": "line", "color": "black", "strokeWidth": 2.5, "strokeDash": [2.5, 3.5]},
                 "encoding": {
                   "x": {"field": "x", "type": "quantitative", "title": null},
                   "y": {"field": "v", "type": "quantitative", "scale": {"domain": [0, 80], "nice": false, "zero": false}, "axis": {"orient": "right", "values": [0,20,40,60,80], "tickCount": 100, "format": "d", "labelOverlap": false, "title": null}}}}
              ],
              "resolve": {"scale": {"y": "independent"}}
            },
            {
              "width": 350, "height": 132,
              "layer": [
                {"layer": [
                  {"data": {"name": "p4a"}, "mark": {"type": "line", "color": "black", "strokeWidth": 1.5},
                   "encoding": {
                     "x": {"field": "x", "type": "quantitative", "scale": {"domain": [1750, 2020], "nice": false, "zero": false},
                           "axis": {"values": [1750,1770,1790,1810,1830,1850,1870,1890,1910,1930,1950,1970,1990,2010], "tickCount": 100, "format": "d", "labelExpr": "(datum.value - 1750) % 100 == 0 ? datum.label : ''", "title": null, "labelOverlap": false}},
                     "y": {"field": "v", "type": "quantitative", "scale": {"domain": [0, 200], "nice": false, "zero": false},
                           "axis": {"orient": "left", "values": [0,50,100,150,200], "tickCount": 100, "format": "d", "labelOverlap": false, "title": null}}}},
                  {"data": {"values": [{}]}, "mark": {"type": "text", "text": "Lichenized"},
                   "encoding": {"x": {"datum": 1771, "title": null}, "y": {"datum": 170, "title": null}}}
                ]},
                {"data": {"name": "p4b"}, "mark": {"type": "line", "color": "black", "strokeWidth": 2.5, "strokeDash": [2.5, 3.5]},
                 "encoding": {
                   "x": {"field": "x", "type": "quantitative", "title": null},
                   "y": {"field": "v", "type": "quantitative", "scale": {"domain": [0, 80], "nice": false, "zero": false}, "axis": {"orient": "right", "values": [0,20,40,60,80], "tickCount": 100, "format": "d", "labelOverlap": false, "title": null}}}}
              ],
              "resolve": {"scale": {"y": "independent"}}
            }
          ]
        },
        {
          "spacing": 39,
          "vconcat": [
            {
              "spacing": 144,
              "hconcat": [
                {
                  "width": 309, "height": 145,
                  "layer": [
                    {"layer": [
                      {"data": {"name": "p5a"}, "mark": {"type": "line", "color": "black", "strokeWidth": 1.5},
                       "encoding": {
                         "x": {"field": "x", "type": "quantitative", "scale": {"domain": [1750, 2019], "nice": false, "zero": false},
                               "axis": {"values": [1750,1770,1790,1810,1830,1850,1870,1890,1910,1930,1950,1970,1990,2010], "tickCount": 100, "format": "d", "labelExpr": "(datum.value - 1750) % 100 == 0 ? datum.label : ''", "title": null, "labelOverlap": false}},
                         "y": {"field": "v", "type": "quantitative", "scale": {"domain": [0, 150], "nice": false, "zero": false},
                               "axis": {"orient": "left", "values": [0,50,100,150], "tickCount": 100, "format": "d", "labelOverlap": false, "title": null, "labelPadding": 6}}}},
                      {"data": {"values": [{}]}, "mark": {"type": "text", "text": "Dothideomycetes"},
                       "encoding": {"x": {"datum": 1785, "title": null}, "y": {"datum": 138.6, "title": null}}}
                    ]},
                    {"data": {"name": "p5b"}, "mark": {"type": "line", "color": "black", "strokeWidth": 2.5, "strokeDash": [2.5, 3.5]},
                     "encoding": {
                       "x": {"field": "x", "type": "quantitative", "title": null},
                       "y": {"field": "v", "type": "quantitative", "scale": {"domain": [0, 80], "nice": false, "zero": false}, "axis": {"orient": "right", "values": [0,20,40,60,80], "tickCount": 100, "format": "d", "labelOverlap": false, "title": null}}}}
                  ],
                  "resolve": {"scale": {"y": "independent"}}
                },
                {
                  "width": 335, "height": 138,
                  "layer": [
                    {"layer": [
                      {"data": {"name": "p6a"}, "mark": {"type": "line", "color": "black", "strokeWidth": 1.5},
                       "encoding": {
                         "x": {"field": "x", "type": "quantitative", "scale": {"domain": [1750, 2019], "nice": false, "zero": false},
                               "axis": {"values": [1750,1770,1790,1810,1830,1850,1870,1890,1910,1930,1950,1970,1990,2010], "tickCount": 100, "format": "d", "labelExpr": "(datum.value - 1750) % 100 == 0 ? datum.label : ''", "title": null, "labelOverlap": false}},
                         "y": {"field": "v", "type": "quantitative", "scale": {"domain": [0, 20.75], "nice": false, "zero": false},
                               "axis": {"orient": "left", "values": [0,5,10,15,20], "tickCount": 100, "format": "d", "labelOverlap": false, "title": null}}}},
                      {"data": {"values": [{}]}, "mark": {"type": "text", "text": "Budding yeasts"},
                       "encoding": {"x": {"datum": 1781, "title": null}, "y": {"datum": 18.8, "title": null}}}
                    ]},
                    {"data": {"name": "p6b"}, "mark": {"type": "line", "color": "black", "strokeWidth": 2.5, "strokeDash": [2.5, 3.5]},
                     "encoding": {
                       "x": {"field": "x", "type": "quantitative", "title": null},
                       "y": {"field": "v", "type": "quantitative", "scale": {"domain": [0, 8.3], "nice": false, "zero": false}, "axis": {"orient": "right", "values": [0,2,4,6,8], "tickCount": 100, "format": "d", "labelOverlap": false, "title": null}}}}
                  ],
                  "resolve": {"scale": {"y": "independent"}}
                }
              ]
            },
            {
              "spacing": 23,
              "vconcat": [
                {
                  "spacing": 140,
                  "hconcat": [
                    {
                      "width": 329, "height": 172,
                      "layer": [
                        {"layer": [
                          {"data": {"name": "p7a"}, "mark": {"type": "line", "color": "black", "strokeWidth": 1.5},
                           "encoding": {
                             "x": {"field": "x", "type": "quantitative", "scale": {"domain": [1750, 2021], "nice": false, "zero": false},
                                   "axis": {"values": [1750,1770,1790,1810,1830,1850,1870,1890,1910,1930,1950,1970,1990,2010], "tickCount": 100, "format": "d", "labelExpr": "(datum.value - 1750) % 100 == 0 ? datum.label : ''", "title": null, "labelOverlap": false}},
                             "y": {"field": "v", "type": "quantitative", "scale": {"domain": [0, 10], "nice": false, "zero": false},
                                   "axis": {"orient": "left", "values": [0,5,10], "tickCount": 100, "format": "d", "labelOverlap": false, "title": null}}}},
                          {"data": {"values": [{}]}, "mark": {"type": "text", "text": "Marine associated"},
                           "encoding": {"x": {"datum": 1779, "title": null}, "y": {"datum": 9.0, "title": null}}}
                        ]},
                        {"data": {"name": "p7b"}, "mark": {"type": "line", "color": "black", "strokeWidth": 2.5, "strokeDash": [2.5, 3.5]},
                         "encoding": {
                           "x": {"field": "x", "type": "quantitative", "title": null},
                           "y": {"field": "v", "type": "quantitative", "scale": {"domain": [0, 8], "nice": false, "zero": false}, "axis": {"orient": "right", "values": [0,2,4,6,8], "tickCount": 100, "format": "d", "labelOverlap": false, "title": null}}}}
                      ],
                      "resolve": {"scale": {"y": "independent"}}
                    },
                    {
                      "width": 331, "height": 173,
                      "layer": [
                        {"layer": [
                          {"data": {"name": "p8a"}, "mark": {"type": "line", "color": "black", "strokeWidth": 1.5},
                           "encoding": {
                             "x": {"field": "x", "type": "quantitative", "scale": {"domain": [1750, 2019], "nice": false, "zero": false},
                                   "axis": {"values": [1750,1770,1790,1810,1830,1850,1870,1890,1910,1930,1950,1970,1990,2010], "tickCount": 100, "format": "d", "labelExpr": "(datum.value - 1750) % 100 == 0 ? datum.label : ''", "title": null, "labelOverlap": false}},
                             "y": {"field": "v", "type": "quantitative", "scale": {"domain": [0, 11.234], "nice": false, "zero": false},
                                   "axis": {"orient": "left", "values": [0,5,10], "tickCount": 100, "format": "d", "domain": false, "labelOverlap": false, "title": null}}}},
                          {"data": {"values": [{}]}, "mark": {"type": "rule", "color": "black", "strokeWidth": 1.5},
                           "encoding": {"x": {"datum": 1750, "title": null}, "y": {"datum": 0, "title": null}, "y2": {"datum": 10}}},
                          {"data": {"values": [{}]}, "mark": {"type": "rule", "color": "black", "strokeWidth": 1.5},
                           "encoding": {"x": {"datum": 2019, "title": null}, "y": {"datum": 0, "title": null}, "y2": {"datum": 8.3}}},
                          {"data": {"values": [{}]}, "mark": {"type": "text", "text": "Medically significant"},
                           "encoding": {"x": {"datum": 1771, "title": null}, "y": {"datum": 9.93, "title": null}}}
                        ]},
                        {"data": {"name": "p8b"}, "mark": {"type": "line", "color": "black", "strokeWidth": 2.5, "strokeDash": [2.5, 3.5]},
                         "encoding": {
                           "x": {"field": "x", "type": "quantitative", "title": null},
                           "y": {"field": "v", "type": "quantitative", "scale": {"domain": [0, 8.987], "nice": false, "zero": false}, "axis": {"orient": "right", "values": [0,2,4,6,8], "tickCount": 100, "format": "d", "domain": false, "labelOverlap": false, "title": null}}}}
                      ],
                      "resolve": {"scale": {"y": "independent"}}
                    }
                  ]
                },
                {
                  "width": 825, "height": 264,
                  "layer": [
                    {"layer": [
                      {"data": {"name": "fa"}, "mark": {"type": "line", "color": "black", "strokeWidth": 1.5},
                       "encoding": {
                         "x": {"field": "x", "type": "quantitative", "scale": {"domain": [1729.58, 2020], "nice": false, "zero": false},
                               "axis": {"values": [1750,1760,1770,1780,1790,1800,1810,1820,1830,1840,1850,1860,1870,1880,1890,1900,1910,1920,1930,1940,1950,1960,1970,1980,1990,2000,2010,2020], "tickCount": 100, "domain": false, "format": "d", "labelExpr": "(datum.value - 1750) % 50 == 0 ? datum.label : ''", "title": "Year", "titlePadding": 6, "titleX": 441, "labelOverlap": false}},
                         "y": {"field": "v", "type": "quantitative", "scale": {"domain": [0, 600], "nice": false, "zero": false},
                               "axis": {"orient": "left", "values": [0,100,200,300,400,500,600], "tickCount": 100, "format": "d", "offset": -58, "labelOverlap": false, "title": "Number first authors", "minExtent": 60, "titlePadding": 22}}}},
                      {"data": {"values": [{}]}, "mark": {"type": "rule", "color": "black", "strokeWidth": 1.5},
                       "encoding": {"x": {"datum": 1750}, "x2": {"datum": 2020}, "y": {"datum": 0}}},
                      {"data": {"values": [{}]}, "mark": {"type": "text", "text": "All Fungi"},
                       "encoding": {"x": {"datum": 1763}, "y": {"datum": 530}}},
                      {"data": {"values": [{}]}, "mark": {"type": "rule", "color": "black", "strokeWidth": 5},
                       "encoding": {"x": {"datum": 1902}, "y": {"datum": 322}, "y2": {"datum": 160}}},
                      {"data": {"values": [{}]}, "mark": {"type": "point", "shape": "triangle-down", "filled": true, "color": "black", "size": 380, "opacity": 1},
                       "encoding": {"x": {"datum": 1902}, "y": {"datum": 150}}}
                    ]},
                    {"data": {"name": "fb"}, "mark": {"type": "line", "color": "black", "strokeWidth": 2.2, "strokeDash": [2.2, 3.3]},
                     "encoding": {
                       "x": {"field": "x", "type": "quantitative"},
                       "y": {"field": "v", "type": "quantitative", "scale": {"domain": [0, 80], "nice": false, "zero": false}, "axis": {"orient": "right", "values": [0,10,20,30,40,50,60,70,80], "tickCount": 100, "format": "d", "labelOverlap": false, "title": "Number species / author", "titlePadding": 30}}}}
                  ],
                  "resolve": {"scale": {"y": "independent"}}
                }
              ]
            }
          ]
        }
      ]
    }
  ],
  "spacing": 23,
  "config": {
    "view": {"stroke": null},
    "font": "Liberation Serif",
    "axis": {"labelFont": "Liberation Serif", "labelFontWeight": "bold", "labelFontSize": 24, "labelColor": "black",
             "titleFont": "Liberation Serif", "titleFontWeight": "bold", "titleFontSize": 24, "titleColor": "black",
             "domainColor": "black", "domainWidth": 1.5, "tickColor": "black", "tickWidth": 1.5, "tickSize": 6,
             "grid": false, "labelFlush": false, "labelOverlap": false},
    "axisX": {"labelPadding": 10},
    "axisLeft": {"labelPadding": 8},
    "axisRight": {"labelPadding": 9},
    "text": {"font": "Liberation Serif", "fontWeight": "bold", "fontSize": 25, "color": "black", "align": "left", "baseline": "middle"}
  }
}
